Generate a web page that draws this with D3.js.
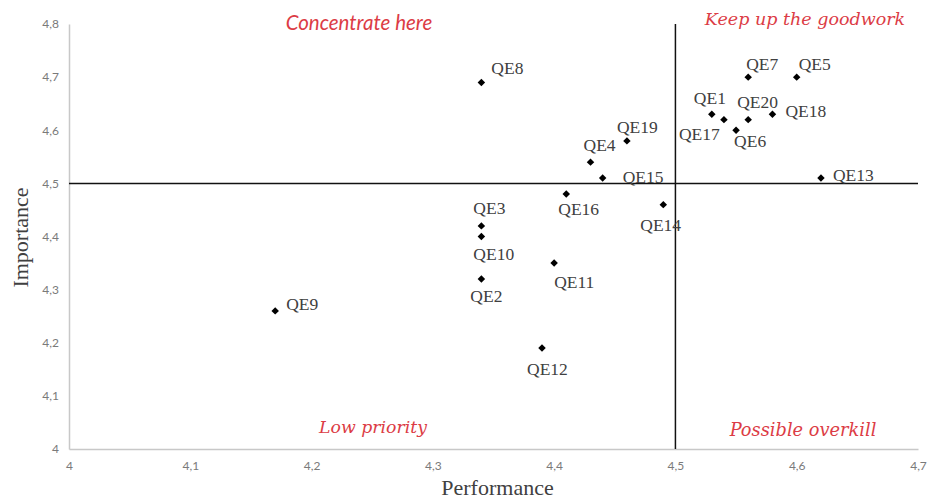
<!DOCTYPE html>
<html>
<head>
<meta charset="utf-8">
<script src="https://cdn.jsdelivr.net/npm/d3@7"></script>
<style>
  body { margin: 0; background: #fff; }
  svg { display: block; }
</style>
</head>
<body>
<svg id="chart" width="928" height="499"></svg>
<script>
// Data
const labels      = ["QE1","QE2","QE3","QE4","QE5","QE6","QE7","QE8","QE9","QE10",
                     "QE11","QE12","QE13","QE14","QE15","QE16","QE17","QE18","QE19","QE20"];
const performance = [4.53,4.34,4.34,4.43,4.60,4.55,4.56,4.34,4.17,4.34,
                     4.40,4.39,4.62,4.49,4.44,4.41,4.54,4.58,4.46,4.56];
const importance  = [4.63,4.32,4.42,4.54,4.70,4.60,4.70,4.69,4.26,4.40,
                     4.35,4.19,4.51,4.46,4.51,4.48,4.62,4.63,4.58,4.62];
const xTicks = [4, 4.1, 4.2, 4.3, 4.4, 4.5, 4.6, 4.7];
const yTicks = [4, 4.1, 4.2, 4.3, 4.4, 4.5, 4.6, 4.7, 4.8];
const xMid = 4.5, yMid = 4.5;
const quadrants = ["Concentrate here", "Keep up the goodwork", "Low priority", "Possible overkill"];

// label offsets (px from the marker), like Excel's dragged data labels
const labelOffset = {
  QE1:[-18,-10], QE2:[-11,23], QE3:[-8,-12], QE4:[-7,-11], QE5:[2,-7],
  QE6:[-2,17], QE7:[-2,-7], QE8:[10,-8], QE9:[11,-1], QE10:[-8,23],
  QE11:[0,25], QE12:[-15,27], QE13:[12,3], QE14:[-23,26], QE15:[20,5],
  QE16:[-8,21], QE17:[-45,20], QE18:[13,3], QE19:[-10,-8], QE20:[-11,-12]
};

const svg = d3.select("#chart");
const margin = {left: 69, right: 10, top: 24, bottom: 50};
const W = 928, H = 499;

const x = d3.scaleLinear().domain([4, 4.7]).range([margin.left, W - margin.right]);
const y = d3.scaleLinear().domain([4, 4.8]).range([H - margin.bottom, margin.top]);

const fmt = d => d3.format(".1f")(d).replace(".", ",").replace(",0", "");

// axes (no tick marks, light grey domain)
const xAxis = svg.append("g")
    .attr("transform", `translate(0,${y(4)})`)
    .call(d3.axisBottom(x).tickValues(xTicks).tickSize(0).tickPadding(12).tickFormat(fmt));
const yAxis = svg.append("g")
    .attr("transform", `translate(${x(4)},0)`)
    .call(d3.axisLeft(y).tickValues(yTicks).tickSize(0).tickPadding(10).tickFormat(fmt));
[xAxis, yAxis].forEach(a => {
  a.select(".domain").attr("stroke", "#c8c8c8").attr("stroke-width", 1.5);
  a.selectAll("text").attr("fill", "#7a7a7a")
    .style("font-family", "Lato, 'Open Sans', sans-serif").style("font-size", "12px");
});

// quadrant lines
svg.append("line")
    .attr("x1", x(4)).attr("x2", x(4.7)).attr("y1", y(yMid)).attr("y2", y(yMid))
    .attr("stroke", "#111").attr("stroke-width", 1.5);
svg.append("line")
    .attr("x1", x(xMid)).attr("x2", x(xMid)).attr("y1", y(4.8)).attr("y2", y(4))
    .attr("stroke", "#111").attr("stroke-width", 1.5);

// points
const pts = labels.map((l, i) => ({label: l, px: performance[i], im: importance[i]}));
const diamond = d3.symbol().type(d3.symbolSquare).size(28);
svg.append("g").selectAll("path")
  .data(pts)
  .join("path")
    .attr("d", diamond)
    .attr("transform", d => `translate(${x(d.px)},${y(d.im)}) rotate(45)`)
    .attr("fill", "#000");

svg.append("g").selectAll("text")
  .data(pts)
  .join("text")
    .attr("x", d => x(d.px) + labelOffset[d.label][0])
    .attr("y", d => y(d.im) + labelOffset[d.label][1])
    .attr("fill", "#404040")
    .style("font-family", "'Liberation Serif', 'Times New Roman', serif")
    .style("font-size", "17.5px")
    .text(d => d.label);

// quadrant captions
const red = "#dc3c45";
const qPos = [[359, 30, "sans", 20.5], [805, 25, "serif", 17.5], [373, 433, "serif", 17.3], [803, 436, "serif", 17.8]];
quadrants.forEach((q, i) => {
  svg.append("text")
    .attr("x", qPos[i][0]).attr("y", qPos[i][1])
    .attr("text-anchor", "middle")
    .attr("fill", red)
    .style("font-style", "italic")
    .style("font-family", qPos[i][2] === "sans" ? "Lato, sans-serif" : "'DejaVu Serif', serif")
    .style("font-size", qPos[i][3] + "px")
    .text(q);
});

// axis titles
svg.append("text")
    .attr("x", (x(4) + x(4.7)) / 2 + 4).attr("y", 495)
    .attr("text-anchor", "middle").attr("fill", "#404040")
    .style("font-family", "'Liberation Serif', serif").style("font-size", "22px")
    .text("Performance");
svg.append("text")
    .attr("transform", `translate(28,${y(4.4) + 1}) rotate(-90)`)
    .attr("text-anchor", "middle").attr("fill", "#404040")
    .style("font-family", "'Liberation Serif', serif").style("font-size", "22px")
    .text("Importance");
</script>
</body>
</html>
